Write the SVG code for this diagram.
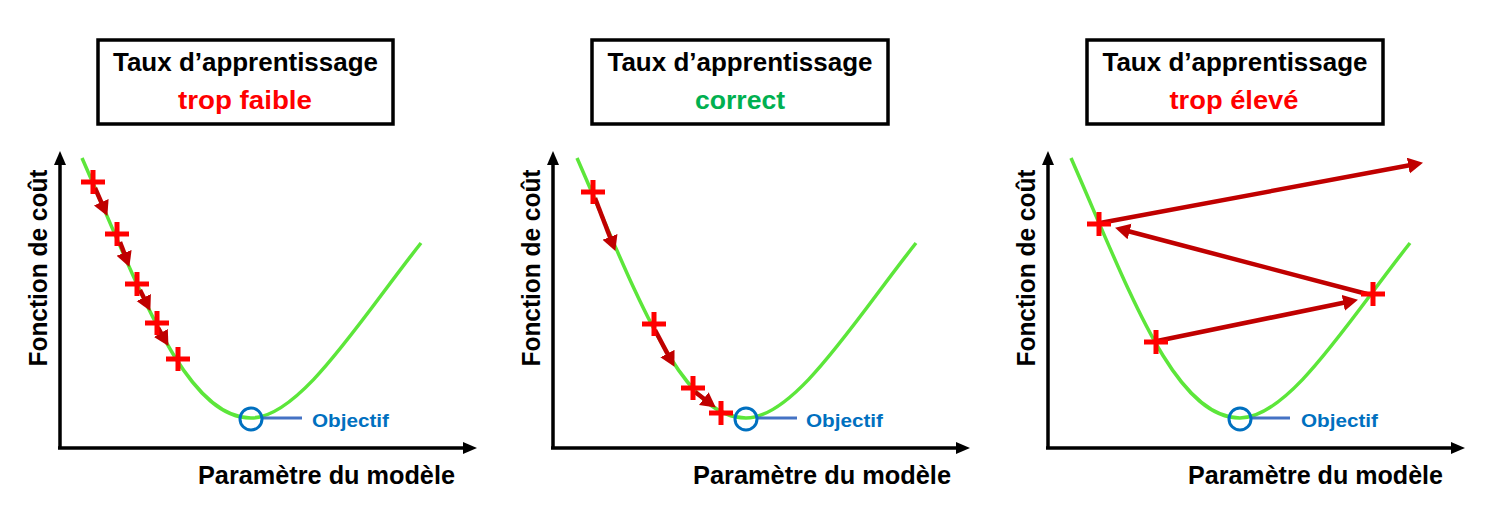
<svg xmlns="http://www.w3.org/2000/svg" xmlns:xlink="http://www.w3.org/1999/xlink" width="1503" height="519" viewBox="0 0 1503 519">
<style>
.box{fill:#fff;stroke:#000;stroke-width:3.5}
.t{font-family:"Liberation Sans",Arial,sans-serif;font-weight:bold;text-anchor:middle}
.title{font-size:25px;fill:#000}
.red{font-size:25px;fill:#FF0000}
.green{font-size:25px;fill:#00B050}
.lab{font-size:25px;fill:#000}
.obj{font-size:19px;fill:#0070C0;text-anchor:start}
.axis{stroke:#000;stroke-width:3.5;fill:none}
.curve{stroke:#5CE63A;stroke-width:3.5;fill:none}
.goal{fill:none;stroke:#0070C0;stroke-width:3}
.lead{stroke:#4472C4;stroke-width:3}
.cross{stroke:#FF0000;stroke-width:5;fill:none}
.step{stroke:#C00000;stroke-width:4.5;fill:none;marker-end:url(#ah)}
</style>
<defs>
<marker id="ah" markerUnits="userSpaceOnUse" markerWidth="17" markerHeight="17" refX="4" refY="8" orient="auto">
<path d="M0,0 L15,8 L0,16 z" fill="#C00000"/>
</marker>
<path id="crv" d="M82,158 C140,290 185,418 251,418 C300,418 360,320 421,243"/>
<g id="axes">
<line x1="60" y1="449" x2="60" y2="164"/>
<polygon points="60,151 54,165 66,165" fill="#000" stroke="none"/>
<line x1="58" y1="448" x2="464" y2="448"/>
<polygon points="477,448 463,442 463,454" fill="#000" stroke="none"/>
</g>
<path id="cr" d="M-12,0 H12 M0,-12 V12"/>
</defs>

<g id="panel1">
<rect class="box" x="98" y="40" width="295" height="84"/>
<text class="t title" x="245.5" y="71" textLength="265" lengthAdjust="spacingAndGlyphs">Taux d’apprentissage</text>
<text class="t red" x="245" y="109" textLength="134" lengthAdjust="spacingAndGlyphs">trop faible</text>
<use href="#axes" class="axis"/>
<text class="t lab" transform="translate(47,268) rotate(-90)" textLength="197" lengthAdjust="spacingAndGlyphs">Fonction de coût</text>
<text class="t lab" x="326.5" y="484" textLength="257" lengthAdjust="spacingAndGlyphs">Paramètre du modèle</text>
<use href="#crv" class="curve"/>
<line class="lead" x1="262" y1="418" x2="302" y2="418"/>
<circle class="goal" cx="251" cy="419" r="11"/>
<text class="t obj" x="312" y="427" textLength="77" lengthAdjust="spacingAndGlyphs">Objectif</text>
</g>

<g id="panel2">
<rect class="box" x="592" y="40" width="296" height="84"/>
<text class="t title" x="740" y="71" textLength="265" lengthAdjust="spacingAndGlyphs">Taux d’apprentissage</text>
<text class="t green" x="740" y="109" textLength="90" lengthAdjust="spacingAndGlyphs">correct</text>
<use href="#axes" class="axis" transform="translate(493,0)"/>
<text class="t lab" transform="translate(540,268) rotate(-90)" textLength="197" lengthAdjust="spacingAndGlyphs">Fonction de coût</text>
<text class="t lab" x="822" y="484" textLength="258" lengthAdjust="spacingAndGlyphs">Paramètre du modèle</text>
<use href="#crv" class="curve" transform="translate(495,0)"/>
<line class="lead" x1="757" y1="418" x2="797" y2="418"/>
<circle class="goal" cx="746" cy="419" r="11"/>
<text class="t obj" x="806" y="427" textLength="77" lengthAdjust="spacingAndGlyphs">Objectif</text>
</g>

<g id="panel3">
<rect class="box" x="1087" y="40" width="296" height="84"/>
<text class="t title" x="1235" y="71" textLength="265" lengthAdjust="spacingAndGlyphs">Taux d’apprentissage</text>
<text class="t red" x="1234" y="109" textLength="129" lengthAdjust="spacingAndGlyphs">trop élevé</text>
<use href="#axes" class="axis" transform="translate(988,0)"/>
<text class="t lab" transform="translate(1035,268) rotate(-90)" textLength="197" lengthAdjust="spacingAndGlyphs">Fonction de coût</text>
<text class="t lab" x="1315.5" y="484" textLength="255" lengthAdjust="spacingAndGlyphs">Paramètre du modèle</text>
<use href="#crv" class="curve" transform="translate(989,0)"/>
<line class="lead" x1="1251" y1="418" x2="1290" y2="418"/>
<circle class="goal" cx="1240" cy="419" r="11"/>
<text class="t obj" x="1301" y="427" textLength="77" lengthAdjust="spacingAndGlyphs">Objectif</text>
</g>

<g id="connectors">
<path class="step" d="M95,188 L102.9,205.9"/>
<path class="step" d="M120,242 L125.5,256.6"/>
<path class="step" d="M140,290 L145.5,301.1"/>
<path class="step" d="M158,328 L162.9,336.4"/>
<path class="step" d="M595,198 L611.4,240.7"/>
<path class="step" d="M655,330 L669.3,357.1"/>
<path class="step" d="M695,392 L707,401"/>
<path class="step" d="M1157,341 L1347.2,302"/>
<path class="step" d="M1367,294 L1125.7,230.5"/>
<path class="step" d="M1100,223 L1412.2,164.8"/>
</g>

<g id="markers">
<use href="#cr" class="cross" x="93" y="182"/>
<use href="#cr" class="cross" x="117" y="234"/>
<use href="#cr" class="cross" x="137" y="284"/>
<use href="#cr" class="cross" x="157" y="323"/>
<use href="#cr" class="cross" x="178" y="359"/>
<use href="#cr" class="cross" x="593" y="192"/>
<use href="#cr" class="cross" x="654" y="324"/>
<use href="#cr" class="cross" x="693" y="388"/>
<use href="#cr" class="cross" x="721" y="413"/>
<use href="#cr" class="cross" x="1099" y="224"/>
<use href="#cr" class="cross" x="1156" y="342"/>
<use href="#cr" class="cross" x="1373" y="294"/>
</g>
</svg>
